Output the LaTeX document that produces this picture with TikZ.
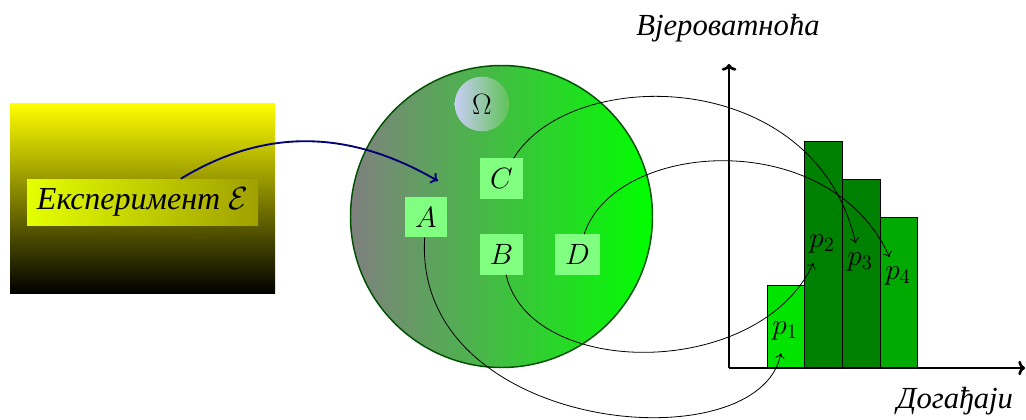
\RequirePackage{fix-cm}
\documentclass[tikz,border=0pt]{standalone}
\usepackage{fontspec}
\newfontfamily\cyrfont{Liberation Serif}
\usetikzlibrary{arrows.meta}
\definecolor{evgreen}{RGB}{128,255,128}
\definecolor{navyarrow}{RGB}{0,0,115}
\definecolor{ringgreen}{RGB}{0,80,0}
\definecolor{barA}{RGB}{0,228,0}
\definecolor{barB}{RGB}{0,128,0}
\definecolor{barD}{RGB}{0,170,0}
\definecolor{expL}{RGB}{228,255,0}
\definecolor{expR}{RGB}{160,160,0}
\definecolor{omL}{RGB}{200,205,245}
\definecolor{omR}{RGB}{95,195,85}
\begin{document}
\begin{tikzpicture}[x=0.75pt,y=-0.75pt,
  txt/.style={font=\cyrfont\itshape\fontsize{23}{27}\selectfont},
  mth/.style={font=\fontsize{22}{26}\selectfont},
  ev/.style={mth, fill=evgreen, inner sep=7.5pt},
  plab/.style={mth, inner sep=7pt},
  bar/.style={draw=black, line width=0.6pt},
  link/.style={draw=black, line width=0.6pt, -{To[length=4pt,width=7pt]}},
  axis/.style={line width=2pt, -{To[length=5pt,width=11pt]}},
]
\useasboundingbox (0,0) rectangle (1026,419);

% experiment
\node[inner sep=0, minimum width=198.75pt, minimum height=142.5pt,
      top color=yellow, bottom color=black] (bg) at (142.5,198) {};
\node[txt, inner sep=0, minimum width=173.25pt, minimum height=34.5pt,
      left color=expL, right color=expR] (exp) at (142.5,202) {\fontsize{24}{28}\selectfont Експеримент $\mathcal{E}$};

% sample space
\node[circle, inner sep=0, minimum size=226.5pt, draw=ringgreen, line width=1.1pt,
      left color=gray, right color=green] (U) at (501.5,216.5) {};
\node[mth, circle, inner sep=0, minimum size=41pt, left color=omL, right color=omR] (Om) at (482,104) {$\Omega$};

\node[ev] (A) at (426,217) {$A$};
\node[ev] (C) at (501.5,178.5) {$C$};
\node[ev] (B) at (501.5,254.5) {$B$};
\node[ev] (D) at (577.5,254.5) {$D$};

% bars
\draw[bar, fill=barA] (767,368) rectangle (804.5,285);
\draw[bar, fill=barB] (804.5,368) rectangle (842,141);
\draw[bar, fill=barB] (842,368) rectangle (880,179);
\draw[bar, fill=barD] (880,368) rectangle (917.5,217);

\node[plab, inner sep=9.5pt] (p1) at (785,331) {$p_1$};
\node[plab] (p2) at (822,244) {$p_2$};
\node[plab] (p3) at (860,262) {$p_3$};
\node[plab] (p4) at (898,276) {$p_4$};

% axes
\coordinate (O) at (729,368);
\coordinate (ytop) at (729,64);
\coordinate (xend) at (1025,368);
\draw[axis] (O) -- (ytop);
\draw[axis] (O) -- (xend);
\node[txt, anchor=base] (ylab) at (728,35) {Вјероватноћа};
\node[txt, anchor=base] (xlab) at (955,408) {Догађаји};

% links
\coordinate (hit) at (438,181);
\draw[navyarrow, line width=1.4pt, -{To[length=5pt,width=9pt]}] (exp) .. controls (266,127) and (350,130) .. (hit);
\draw[link] (A) .. controls (412,434) and (760,465) .. (p1);
\draw[link] (B) .. controls (530,380) and (760,380) .. (p2);
\draw[link] (C) .. controls (570,65) and (815,65) .. (p3);
\draw[link] (D) .. controls (615,140) and (830,125) .. (p4);
\end{tikzpicture}
\end{document}
